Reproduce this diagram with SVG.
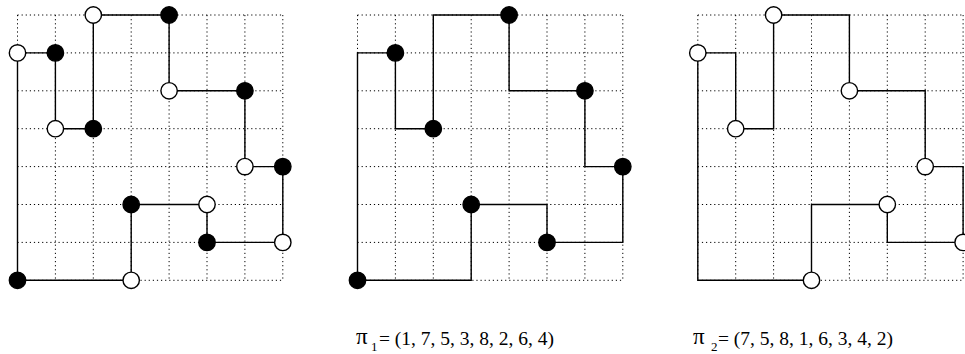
<svg xmlns="http://www.w3.org/2000/svg" xmlns:xlink="http://www.w3.org/1999/xlink" width="965" height="354" viewBox="0 0 965 354">
<style>
.grid{fill:none;stroke:#000;stroke-width:1;stroke-dasharray:1.2 2.9}
.wire{fill:none;stroke:#000;stroke-width:1.4}
.wn{fill:#fff;stroke:#000;stroke-width:1.4}
.bn{fill:#000;stroke:#000;stroke-width:1.4}
.lbl{font-family:"Liberation Serif","Times New Roman",serif;fill:#000}
.pi{font-size:23px}
</style>
<defs>
<path id="gridp" class="grid" d="M17.5 15H282.8M17.5 52.9H282.8M17.5 90.8H282.8M17.5 128.7H282.8M17.5 166.6H282.8M17.5 204.5H282.8M17.5 242.4H282.8M17.5 280.3H282.8M17.5 15V280.3M55.4 15V280.3M93.3 15V280.3M131.2 15V280.3M169.1 15V280.3M207 15V280.3M244.9 15V280.3M282.8 15V280.3"/>
<path id="loop" class="wire" d="M93.3 15H169.1V90.8H244.9V166.6H282.8V242.4H207V204.5H131.2V280.3H17.5V52.9H55.4V128.7H93.3Z"/>
<circle id="w" class="wn" r="8.2"/>
<circle id="b" class="bn" r="8.2"/>
</defs>

<g id="grids">
<use xlink:href="#gridp"/>
<use xlink:href="#gridp" transform="translate(340,0)"/>
<use xlink:href="#gridp" transform="translate(680.3,0)"/>
</g>

<g id="connectors">
<use xlink:href="#loop"/>
<use xlink:href="#loop" transform="translate(340,0)"/>
<use xlink:href="#loop" transform="translate(680.3,0)"/>
</g>

<g id="panel1">
<g id="p1-w1"><use xlink:href="#w" x="93.3" y="15"/></g>
<g id="p1-b1"><use xlink:href="#b" x="169.1" y="15"/></g>
<g id="p1-w2"><use xlink:href="#w" x="17.5" y="52.9"/></g>
<g id="p1-b2"><use xlink:href="#b" x="55.4" y="52.9"/></g>
<g id="p1-w3"><use xlink:href="#w" x="169.1" y="90.8"/></g>
<g id="p1-b3"><use xlink:href="#b" x="244.9" y="90.8"/></g>
<g id="p1-w4"><use xlink:href="#w" x="55.4" y="128.7"/></g>
<g id="p1-b4"><use xlink:href="#b" x="93.3" y="128.7"/></g>
<g id="p1-w5"><use xlink:href="#w" x="244.9" y="166.6"/></g>
<g id="p1-b5"><use xlink:href="#b" x="282.8" y="166.6"/></g>
<g id="p1-b6"><use xlink:href="#b" x="131.2" y="204.5"/></g>
<g id="p1-w6"><use xlink:href="#w" x="207" y="204.5"/></g>
<g id="p1-b7"><use xlink:href="#b" x="207" y="242.4"/></g>
<g id="p1-w7"><use xlink:href="#w" x="282.8" y="242.4"/></g>
<g id="p1-b8"><use xlink:href="#b" x="17.5" y="280.3"/></g>
<g id="p1-w8"><use xlink:href="#w" x="131.2" y="280.3"/></g>
</g>

<g id="panel2" transform="translate(340,0)">
<g id="p2-b1"><use xlink:href="#b" x="169.1" y="15"/></g>
<g id="p2-b2"><use xlink:href="#b" x="55.4" y="52.9"/></g>
<g id="p2-b3"><use xlink:href="#b" x="244.9" y="90.8"/></g>
<g id="p2-b4"><use xlink:href="#b" x="93.3" y="128.7"/></g>
<g id="p2-b5"><use xlink:href="#b" x="282.8" y="166.6"/></g>
<g id="p2-b6"><use xlink:href="#b" x="131.2" y="204.5"/></g>
<g id="p2-b7"><use xlink:href="#b" x="207" y="242.4"/></g>
<g id="p2-b8"><use xlink:href="#b" x="17.5" y="280.3"/></g>
</g>

<g id="panel3" transform="translate(680.3,0)">
<g id="p3-w1"><use xlink:href="#w" x="93.3" y="15"/></g>
<g id="p3-w2"><use xlink:href="#w" x="17.5" y="52.9"/></g>
<g id="p3-w3"><use xlink:href="#w" x="169.1" y="90.8"/></g>
<g id="p3-w4"><use xlink:href="#w" x="55.4" y="128.7"/></g>
<g id="p3-w5"><use xlink:href="#w" x="244.9" y="166.6"/></g>
<g id="p3-w6"><use xlink:href="#w" x="207" y="204.5"/></g>
<g id="p3-w7"><use xlink:href="#w" x="282.8" y="242.4"/></g>
<g id="p3-w8"><use xlink:href="#w" x="131.2" y="280.3"/></g>
</g>

<g id="label1" class="lbl">
<text class="pi" x="356" y="344">π</text>
<text x="371" y="351" font-size="13">1</text>
<text x="379" y="345" font-size="19.5">= (1, 7, 5, 3, 8, 2, 6, 4)</text>
</g>
<g id="label2" class="lbl">
<text class="pi" x="693" y="344">π</text>
<text x="711" y="351" font-size="13">2</text>
<text x="718" y="345" font-size="19.5">= (7, 5, 8, 1, 6, 3, 4, 2)</text>
</g>
</svg>
